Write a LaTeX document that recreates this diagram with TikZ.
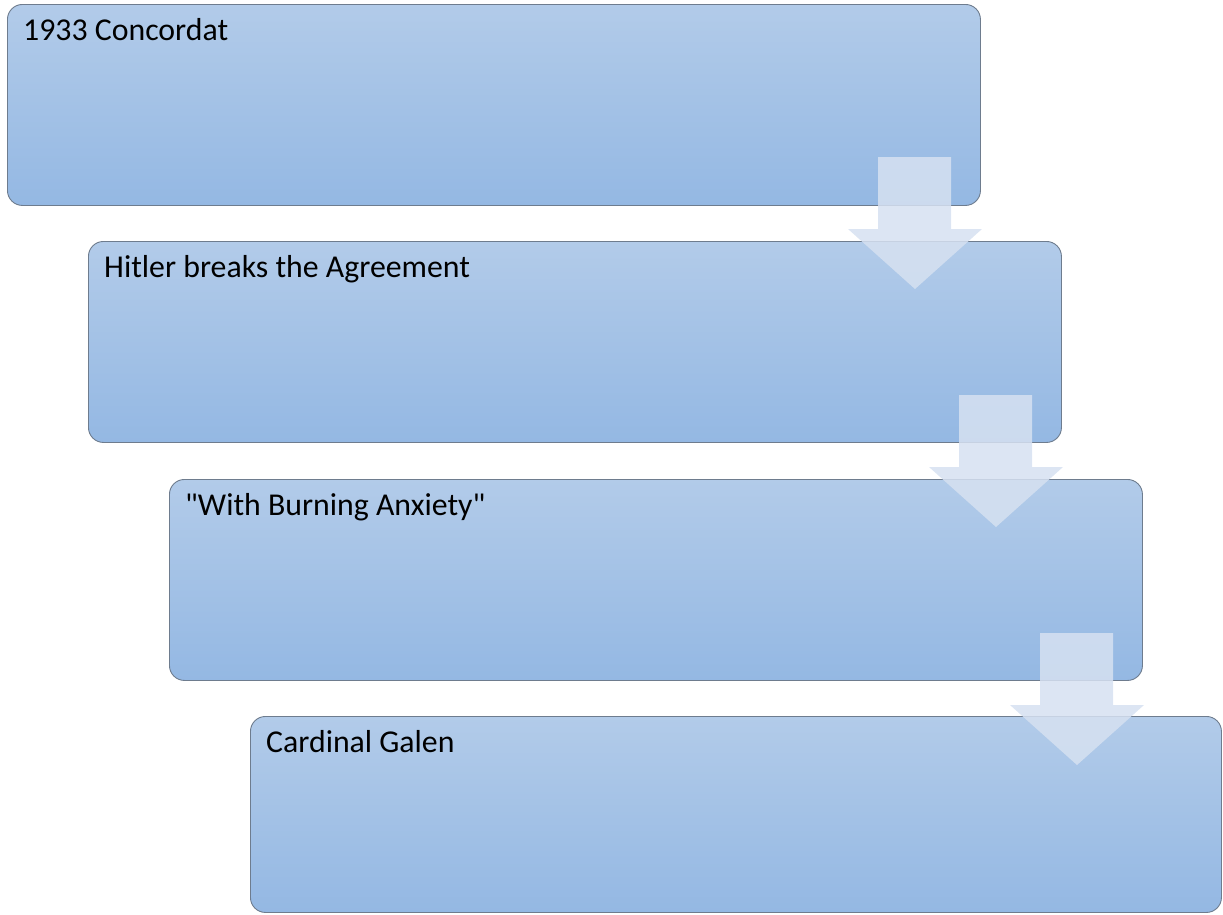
\documentclass[tikz,border=0pt]{standalone}
\usepackage{fontspec}
\setmainfont{Carlito}[Ligatures=TeXOff]
\definecolor{boxtop}{RGB}{178,203,233}
\definecolor{boxbot}{RGB}{148,184,227}
\definecolor{boxline}{RGB}{110,124,142}
\definecolor{arrowcol}{RGB}{214,225,241}
\begin{document}
\begin{tikzpicture}[x=1pt,y=-1pt,
  stagebox/.style={draw=boxline, line width=0.9pt, rounded corners=15pt,
    top color=boxtop, bottom color=boxbot, minimum width=973pt,
    minimum height=201pt, inner sep=0pt, anchor=north west},
  stagelabel/.style={anchor=base west, inner sep=0pt,
    font=\fontsize{31.8}{38}\selectfont},
  flowarrow/.style={fill=arrowcol, fill opacity=0.85, draw=none}]
\useasboundingbox (0,0) rectangle (1223,914);

% stage boxes, each shifted right and down
\node[stagebox] (b1) at (7,4) {};
\node[stagebox] (b2) at (88,241) {};
\node[stagebox] (b3) at (169,479) {};
\node[stagebox, minimum width=971pt, minimum height=196pt] (b4) at (250,716) {};

% box titles
\node[stagelabel] (t1) at (23,40) {1933 Concordat};
\node[stagelabel] (t2) at (104,277) {Hitler breaks the Agreement};
\node[stagelabel] (t3) at (185,515) {"With Burning Anxiety"};
\node[stagelabel] (t4) at (266,752) {Cardinal Galen};

% translucent block arrows between stages
\foreach \dx/\dy in {0/0, 81/238, 162/476}{
  \fill[flowarrow, shift={(\dx,\dy)}]
    (878,157) -- (951,157) -- (951,229) -- (982,229) -- (915,289)
    -- (848,229) -- (878,229) -- cycle;
}
\end{tikzpicture}
\end{document}
